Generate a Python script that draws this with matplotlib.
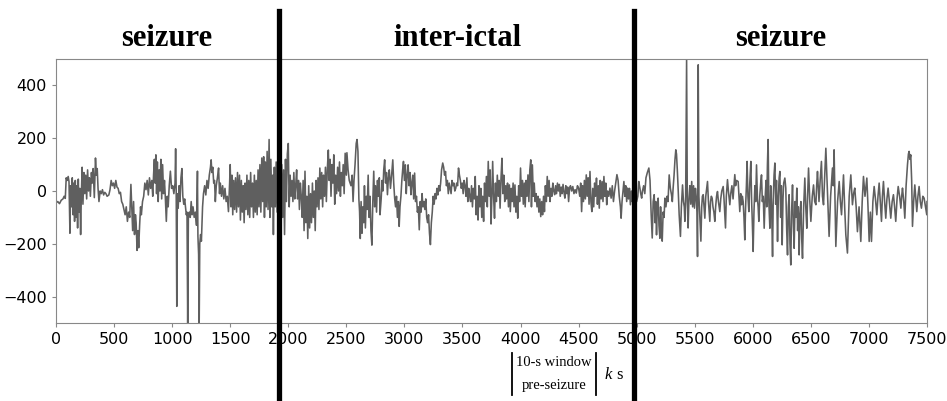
import matplotlib
matplotlib.use("Agg")
import matplotlib.pyplot as plt
from matplotlib.lines import Line2D

# signal (time, amplitude)
t_seg1 = [0, 15, 30, 45, 60, 70, 80, 88, 95, 105, 112, 120, 126, 132, 140, 147, 153, 160, 166, 172,
          180, 186, 192, 198, 205, 212, 218, 225, 232, 240, 248, 256, 264, 272, 280, 288, 296, 305, 312, 320,
          330, 340, 348, 355, 362, 370, 380, 390, 400, 410, 420, 430, 440, 455, 465, 475, 485, 495, 505, 515,
          525, 535, 545, 555, 565, 575, 585, 595, 605, 615, 625, 635, 645, 652, 660, 668, 676, 684, 690, 698,
          705, 712, 720, 728, 735, 745, 755, 765, 775, 785, 795, 805, 815, 825, 833, 840, 847, 853, 860, 866,
          873, 880, 888, 895, 903, 910, 918, 926, 934, 942, 950, 958, 966, 975, 985, 995, 1005, 1015, 1025, 1030,
          1035, 1040, 1045, 1052, 1060, 1068, 1076, 1084, 1092, 1100, 1108, 1115, 1122, 1128, 1134, 1140, 1148, 1156, 1164, 1172,
          1180, 1190, 1200, 1210, 1218, 1222, 1228, 1233, 1238, 1245, 1252]
v_seg1 = [-45, -40, -48, -35, -30, -20, -28, 50, 40, 55, 35, -160, 20, -60, 50, -90, 30, -115, 40, -100,
          20, -140, 45, -80, 10, -165, -20, 90, -50, 70, -10, 60, -30, 80, 0, 50, -20, 70, 30, 85,
          -25, 125, 60, 85, 10, -40, 0, -10, 5, -15, -5, -10, -20, -15, 5, 40, 20, 30, 10, 40,
          15, 10, -10, -5, -40, -50, -70, -90, -60, -115, -80, -100, 25, -60, -150, -40, -165, -90, -120, -225,
          -150, -215, -130, -60, -90, -40, -20, 30, 5, 40, -15, 50, 10, 40, -20, 60, 120, 30, 137, -10,
          110, -40, 80, 0, 120, -30, 100, -10, 40, -30, -115, -20, -60, 20, 75, 10, 20, -10, 30, 160,
          0, -437, -10, -65, 20, -40, 50, 85, -20, -50, -30, -60, -90, -80, -500, -90, -80, -100, -40, -90,
          -60, -100, -80, -130, 75, -170, -240, -500, -200, -165, -190]

t_seg2 = [1262, 1270, 1280, 1290, 1300, 1310, 1320, 1330, 1336, 1342, 1350, 1358, 1365, 1372, 1380, 1390, 1400, 1408, 1415, 1425,
          1435, 1445, 1455, 1465, 1475, 1485, 1495, 1500, 1507, 1515, 1522, 1530, 1538, 1546, 1555, 1563, 1571, 1580, 1588, 1596,
          1604, 1612, 1620, 1628, 1636, 1644, 1652, 1660, 1668, 1676, 1684, 1692, 1700, 1708, 1716, 1724, 1732, 1740, 1748, 1756,
          1764, 1772, 1780, 1788, 1795, 1802, 1810, 1818, 1826, 1835, 1842, 1850, 1858, 1866, 1872, 1880, 1888, 1896, 1904, 1912,
          1920, 1928, 1936, 1944, 1952, 1960, 1968, 1976, 1984, 1992, 2000, 2008, 2016, 2024, 2032, 2040, 2048, 2056, 2064, 2072,
          2080, 2088, 2096, 2104, 2112, 2120, 2128, 2136, 2144, 2152, 2160, 2168, 2176, 2184, 2192, 2200, 2208, 2216, 2224, 2232,
          2240, 2248, 2256, 2264, 2272, 2280, 2288, 2296, 2304, 2312, 2320, 2328, 2336, 2345, 2352, 2360, 2368, 2376, 2384, 2392,
          2400, 2408, 2416, 2425, 2433, 2441, 2449, 2457, 2465, 2473, 2481, 2490, 2500]
v_seg2 = [-60, -10, 20, -15, 40, 10, 60, 90, 118, 70, 90, 30, 40, -40, 20, 50, 87, -10, 30, -20,
          20, -30, 10, -40, -20, -78, 30, 100, -60, 60, -90, 40, -70, 50, -80, 70, -60, 60, -110, 40,
          -80, 20, -120, 30, -70, 60, -90, 40, -100, 70, -60, 30, -100, 60, -80, 40, -90, 80, -60, 100,
          -80, 125, -40, 130, -100, 110, -60, 150, -70, 195, -100, 120, -60, 60, -165, 90, -60, 110, -80, 60,
          -120, 90, -50, 100, -100, 80, -165, 120, -40, 140, 180, -60, 60, -20, 40, -40, 70, -30, 20, 80,
          -30, 40, -70, 30, -20, -100, 40, -150, 75, -120, -20, -180, 20, -140, -10, -120, 30, -100, 0, -150,
          40, -60, 50, -70, 87, -30, 70, -60, 60, -20, 90, -40, 80, 155, 40, 120, -20, 100, 30, 137,
          -50, 60, -10, 90, 0, 110, -20, 70, 20, 100, -10, 143, 60]

t_seg3 = [2505, 2515, 2525, 2540, 2550, 2558, 2566, 2575, 2585, 2592, 2600, 2608, 2614, 2620, 2627, 2635, 2642, 2650, 2656, 2664,
          2672, 2680, 2688, 2696, 2704, 2712, 2720, 2728, 2736, 2744, 2752, 2760, 2768, 2776, 2784, 2790, 2800, 2808, 2815, 2822,
          2830, 2838, 2846, 2854, 2862, 2870, 2880, 2890, 2900, 2908, 2916, 2924, 2932, 2940, 2948, 2955, 2962, 2970, 2978, 2985,
          2992, 3000, 3008, 3016, 3024, 3032, 3040, 3048, 3056, 3064, 3072, 3080, 3088, 3096, 3104, 3112, 3120, 3128, 3136, 3144,
          3152, 3160, 3168, 3176, 3184, 3192, 3200, 3208, 3216, 3224, 3232, 3240, 3248, 3256, 3264, 3272, 3280, 3288, 3296, 3304,
          3312, 3320, 3330, 3338, 3346, 3354, 3362, 3370, 3378, 3386, 3394, 3402, 3410, 3418, 3426, 3434, 3442, 3450, 3458, 3466,
          3474, 3482, 3490, 3498, 3506, 3514, 3522, 3530, 3538, 3546, 3554, 3562, 3570, 3578, 3586, 3594, 3602, 3610, 3618, 3626,
          3634, 3642, 3650, 3658, 3666, 3674, 3682, 3690, 3698, 3706, 3714, 3722, 3730, 3738, 3746, 3752]
v_seg3 = [145, 80, 40, 20, 60, -40, 40, 100, 180, 195, 150, -30, -78, -180, -40, -160, -60, -120, 20, -140,
          -20, -70, 60, -100, -20, -150, -205, -40, 75, -60, 20, -80, 40, -20, 50, -90, -30, 40, 0, 80,
          118, 30, 70, -14, 50, 80, 10, 60, 118, 30, -27, -60, -20, -100, -40, -134, -60, -20, 40, 80,
          112, 40, 99, -10, 60, 99, 20, 70, -14, 30, 60, -30, 68, -40, -20, -80, -60, -147, -40, -80,
          -10, -60, -40, -70, -30, -100, -120, -90, -160, -203, -120, -80, -20, -50, -10, -30, 10, -15, 20, 0,
          30, 80, 106, 90, 60, 74, 20, 40, -10, 30, 10, -10, 40, 20, 30, 0, 10, 30, 20, 87,
          60, 40, 10, 30, -10, 40, 20, -20, 50, -40, 10, -20, -40, 20, -60, 10, -30, 55, -90, -20,
          -110, 20, -60, 10, -100, -20, -115, 30, -40, 55, -60, 112, -20, 80, -125, -40]

t_seg4 = [3760, 3768, 3776, 3784, 3792, 3800, 3808, 3816, 3824, 3832, 3840, 3848, 3856, 3864, 3872, 3880, 3888, 3896, 3904, 3912,
          3920, 3928, 3936, 3944, 3952, 3960, 3968, 3976, 3984, 3992, 4000, 4008, 4016, 4024, 4032, 4040, 4048, 4056, 4064, 4072,
          4080, 4088, 4094, 4102, 4110, 4118, 4126, 4134, 4142, 4150, 4158, 4166, 4174, 4182, 4190, 4198, 4206, 4214, 4222, 4230,
          4238, 4246, 4254, 4262, 4270, 4278, 4286, 4294, 4302, 4310, 4318, 4326, 4334, 4342, 4350, 4358, 4366, 4374, 4382, 4390,
          4398, 4406, 4414, 4422, 4430, 4440, 4450, 4460, 4470, 4480, 4490, 4500, 4510, 4518, 4526, 4534, 4542, 4550, 4558, 4566,
          4574, 4582, 4590, 4598, 4606, 4614, 4622, 4630, 4638, 4646, 4654, 4662, 4670, 4678, 4686, 4694, 4702, 4710, 4718, 4726,
          4734, 4742, 4750, 4760, 4770, 4780, 4790, 4800, 4810, 4820, 4830, 4840, 4850, 4860, 4866, 4874, 4882, 4890, 4898, 4906,
          4914, 4922, 4930, 4938, 4946, 4954, 4962, 4970, 4980]
v_seg4 = [112, -20, -103, 30, -40, 60, -20, 40, -65, 50, 124, -10, 60, -40, 20, -30, 30, -60, 23, -78,
          10, -40, 30, -60, 23, -80, -20, -103, 20, -40, 87, -20, 40, -50, 30, -60, 40, -20, 61, -40,
          80, 118, -60, 99, -20, 30, -40, -10, -60, -20, -80, -30, -97, -40, -90, -20, -78, 20, -40, 55,
          -20, 40, -40, 10, -20, 30, 0, -14, 20, -10, 30, 0, 25, -20, 15, -10, 25, -5, -27, 20,
          -10, 15, -40, 10, 20, 0, 17, -10, 5, -8, 20, 11, -20, 30, -78, 20, -40, 40, -30, 61,
          -20, 50, -50, 74, -40, -78, 10, -60, 30, -20, 49, -50, 20, -65, 40, -30, 36, -40, 55, -20,
          30, -52, 0, -20, 11, -27, 20, -40, 0, 30, 62, 40, -20, -60, -103, -40, 0, 36, -20, 20,
          -40, 11, -30, 10, -52, 0, -40, -20, -50]

t_seg5 = [4990, 5000, 5010, 5018, 5028, 5035, 5043, 5050, 5060, 5070, 5080, 5092, 5105, 5115, 5125, 5134, 5142, 5151, 5158, 5164,
          5171, 5178, 5185, 5192, 5200, 5206, 5213, 5220, 5228, 5236, 5243, 5252, 5262, 5270, 5280, 5290, 5300, 5307, 5314, 5322,
          5330, 5337, 5343, 5350, 5358, 5366, 5377, 5385, 5395, 5403, 5410, 5415, 5422, 5430, 5436, 5443, 5450, 5458, 5466, 5474,
          5482, 5490, 5498, 5506, 5514, 5520, 5524, 5530, 5536, 5544, 5553, 5560, 5566, 5573, 5580, 5587, 5595, 5603, 5610, 5618,
          5624, 5630, 5636, 5643, 5650, 5657, 5665, 5673, 5680, 5688, 5696, 5704, 5710, 5716, 5724, 5733, 5745, 5752, 5758, 5765,
          5772, 5782, 5790, 5802, 5810, 5820, 5830, 5845, 5852, 5860, 5874, 5882, 5888, 5896, 5903, 5910, 5917, 5924, 5931, 5938,
          5945, 5951, 5958, 5966, 5974, 5983, 5990, 5996, 6003, 6010, 6018, 6025, 6032, 6040, 6046, 6052, 6060, 6068, 6075, 6082,
          6090, 6098, 6106, 6114, 6120, 6126, 6132, 6138, 6147, 6154, 6162, 6170, 6176, 6183, 6190, 6197, 6204, 6213, 6220, 6227,
          6233, 6240, 6246, 6253, 6260, 6266, 6276]
v_seg5 = [-30, -40, -20, 36, 11, -10, -27, 0, 20, -10, 50, 70, 87, 40, -90, -178, -40, -14, -120, -40,
          -166, -50, -27, -130, -179, -60, -150, -190, -80, -100, -27, -60, -20, -40, 61, 10, -14, -40, 11, 60,
          120, 156, 140, 80, 0, -90, -172, -60, 23, -40, -60, -115, -20, 500, -40, -140, -30, 20, -50, 36,
          -60, 20, -65, 10, -30, -80, -248, 478, -20, -100, -190, -60, -20, -14, -60, -103, -20, 10, 36, -40,
          -80, -115, -40, -20, -27, -60, -80, -115, -60, -20, -2, -40, -60, -78, -30, 0, 17, -30, -80, -140,
          -20, 43, 0, -52, -10, 20, -30, 62, 20, 40, 36, -30, -78, -10, -52, -20, -40, -100, -185, -60,
          20, 112, -20, -78, 30, 112, -40, -120, -229, -80, 20, -40, 99, -30, -60, -115, -20, 30, 61, -40,
          -20, -141, -30, 40, -60, 100, 195, -40, -141, 20, -60, -248, -30, 60, 106, -50, 40, -191, -20, 50,
          74, -100, 20, -204, -30, 30, 49]

t_seg6 = [6284, 6292, 6299, 6306, 6313, 6320, 6327, 6334, 6342, 6349, 6356, 6364, 6371, 6379, 6386, 6392, 6399, 6406, 6414, 6421,
          6428, 6438, 6448, 6456, 6465, 6472, 6480, 6490, 6500, 6512, 6523, 6533, 6543, 6550, 6557, 6570, 6580, 6591, 6600, 6609,
          6619, 6629, 6643, 6650, 6657, 6670, 6686, 6693, 6700, 6715, 6730, 6744, 6754, 6764, 6772, 6781, 6791, 6801, 6815, 6830,
          6844, 6858, 6868, 6878, 6890, 6901, 6915, 6930, 6942, 6953, 6966, 6982, 6992, 7002, 7012, 7022, 7034, 7045, 7056, 7068,
          7078, 7088, 7098, 7108, 7116, 7125, 7135, 7145, 7155, 7165, 7176, 7188, 7200, 7211, 7221, 7231, 7242, 7252, 7264, 7275,
          7282, 7289, 7300, 7309, 7320, 7332, 7340, 7346, 7353, 7360, 7368, 7375, 7385, 7395, 7404, 7412, 7422, 7432, 7442, 7452,
          7464, 7475, 7487, 7498, 7500]
v_seg6 = [11, -150, -242, -60, -14, -200, -280, -80, 23, -120, -217, -40, -100, 11, -150, -60, -242, -90, -40, -180,
          -255, -60, 49, -60, -141, -20, 87, -30, -115, -20, 23, -40, -52, 20, 74, -40, 40, 112, -20, -52,
          60, 162, 0, -80, -172, -20, 87, 20, 156, -210, -40, 36, -40, -90, -20, 61, -60, -166, -235, -20,
          61, -52, -10, 11, -60, -154, -60, -191, -40, 55, -20, 49, -60, -191, -80, -191, -40, 17, -30, -90,
          -20, 30, -40, -115, -20, 36, -40, -103, -30, 11, -40, -103, -40, -14, -60, -115, -30, 17, -20, -65,
          -20, 11, -40, -103, 20, 100, 140, 150, 120, 137, 40, -134, -40, 23, -30, -78, -20, 17, -40, -65,
          -20, -27, -60, -90, -40]

t = t_seg1 + t_seg2 + t_seg3 + t_seg4 + t_seg5 + t_seg6
v = v_seg1 + v_seg2 + v_seg3 + v_seg4 + v_seg5 + v_seg6

boundaries = [1923, 4981]
titles = ["seizure", "inter-ictal", "seizure"]
title_x = [167, 457, 781]  # pixel centres of the three phase labels
xticks = [0, 500, 1000, 1500, 2000, 2500, 3000, 3500, 4000, 4500, 5000, 5500, 6000, 6500, 7000, 7500]
yticks = [-400, -200, 0, 200, 400]

W, H = 947, 401
fig = plt.figure(figsize=(W / 100, H / 100), dpi=100)
ax = fig.add_axes([56 / W, 1 - 323 / H, (927 - 56) / W, (323 - 59) / H])

ax.plot(t, v, color="#5f5f5f", lw=1.15)
ax.set_xlim(0, 7500)
ax.set_ylim(-500, 500)
ax.set_xticks(xticks)
ax.set_yticks(yticks)
ax.tick_params(labelsize=11.5, color="#888888", length=3)
for s in ax.spines.values():
    s.set_color("#888888")

# thick phase boundaries running past the axes
for b in boundaries:
    ax.axvline(b, ymin=-0.30, ymax=1.18, color="black", lw=3.8, clip_on=False, zorder=5)

for x, lab in zip(title_x, titles):
    fig.text(x / W, 1 - 38 / H, lab, ha="center", va="center", fontsize=22,
             fontweight="bold", family="Liberation Serif")

# "10-s window pre-seizure | k s" note under the axis
for xp in [512, 596]:
    fig.add_artist(Line2D([xp / W, xp / W], [1 - 353 / H, 1 - 395 / H], color="black", lw=1.3))
fig.text(554 / W, 1 - 363 / H, "10-s window", ha="center", va="center", fontsize=10.5, family="Liberation Serif")
fig.text(554 / W, 1 - 385 / H, "pre-seizure", ha="center", va="center", fontsize=10.5, family="Liberation Serif")
fig.text(605 / W, 1 - 375 / H, "k", ha="left", va="center", fontsize=12, style="italic", family="Liberation Serif")
fig.text(616 / W, 1 - 375 / H, "s", ha="left", va="center", fontsize=12, family="Liberation Serif")

fig.savefig("out.png", dpi=100, facecolor="white")
